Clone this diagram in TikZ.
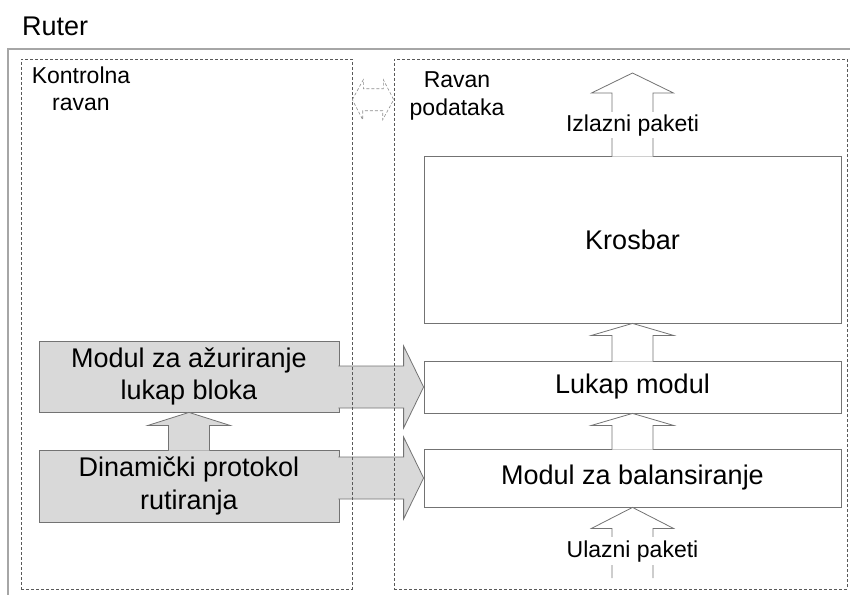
\documentclass[tikz,border=0pt]{standalone}
\usepackage{fontspec}
\setmainfont{Liberation Sans}
\usetikzlibrary{calc}
\tikzset{
    line/.style={draw=black!55,line width=0.8pt},
    plane/.style={draw=black!65,line width=0.6pt,dash pattern=on 3pt off 2pt,inner sep=0pt},
    module/.style={line,fill=white,minimum width=417pt,inner sep=0pt,font=\fontsize{27}{32.5}\selectfont},
    ctrl/.style={line,fill=black!15,minimum width=300pt,inner sep=0pt,align=center,font=\fontsize{27}{32.5}\selectfont},
    small/.style={font=\fontsize{23}{27.6}\selectfont,align=center,inner sep=0pt},
    hollow/.style={line,fill=white},
    solid/.style={line,fill=black!15}
}
% block arrows, tail left open
\newcommand{\blockup}[4]{%
  \filldraw[#1] let \p1=#2, \p2=#3 in
    (\x1-20.5pt,\y1-1pt) -- (\x1-20.5pt,\y2-#4) -- (\x1-41pt,\y2-#4) -- (\p2)
    -- (\x1+41pt,\y2-#4) -- (\x1+20.5pt,\y2-#4) -- (\x1+20.5pt,\y1-1pt);}
\newcommand{\blockright}[3]{%
  \filldraw[#1] let \p1=#2, \p2=#3 in
    (\x1-1pt,\y2+21pt) -- (\x2-20pt,\y2+21pt) -- (\x2-20pt,\y2+41pt) -- (\p2)
    -- (\x2-20pt,\y2-41pt) -- (\x2-20pt,\y2-21pt) -- (\x1-1pt,\y2-21pt);}

\begin{document}
\begin{tikzpicture}[x=1pt,y=-1pt]
  \useasboundingbox (0,0) rectangle (850,594);
  \clip (0,0) rectangle (850,594);
  % Draw router frame
  \draw[draw=black!35,line width=1.2pt] (8,49) rectangle (870,610);
  \node[anchor=base west,inner sep=0pt,font=\fontsize{27}{32.5}\selectfont] (ruter) at (22,36) {Ruter};
  % Draw control plane blocks
  \node[ctrl,minimum height=71pt] (azur) at (189,376.5) {Modul za ažuriranje\\lukap bloka};
  \node[ctrl,minimum height=72pt] (dinam) at (189,486) {Dinamički protokol\\rutiranja};
  % Draw data plane blocks
  \node[module,minimum height=167pt] (krosbar) at (632.5,239.5) {Krosbar};
  \node[module,minimum height=52pt] (lukap) at (632.5,387) {Lukap modul};
  \node[module,minimum height=58pt] (balans) at (632.5,478) {Modul za balansiranje};
  \coordinate (izlazvrh) at (632.5,73);
  \coordinate (ulazdno) at (632.5,577);
  % Draw arrows
  \blockup{hollow}{(krosbar.north)}{(izlazvrh)}{20pt}
  \blockup{hollow}{(lukap.north)}{(krosbar.south)}{12pt}
  \blockup{hollow}{(balans.north)}{(lukap.south)}{12pt}
  \blockup{hollow}{(ulazdno)}{(balans.south)}{21pt}
  \blockup{solid}{(dinam.north)}{(azur.south)}{13pt}
  \blockright{solid}{(azur.east)}{(lukap.west)}
  \blockright{solid}{(dinam.east)}{(balans.west)}
  \node[small,fill=white,inner sep=2.5pt,anchor=base] (izlaz) at (632.5,131) {Izlazni paketi};
  \node[small,fill=white,inner sep=3pt,anchor=base] (ulaz) at (632.5,557) {Ulazni paketi};
  % Draw planes
  \node[plane,minimum width=331pt,minimum height=530pt] (kontrol) at (186.5,324) {};
  \node[plane,minimum width=453pt,minimum height=530pt] (podaci) at (620.5,324) {};
  \node[small,anchor=north] (kontroltxt) at (81,66.5) {Kontrolna\\ravan};
  \node[small,anchor=north] (podacitxt) at (457,71.5) {Ravan\\podataka};
  % Draw interface between planes
  \draw[plane,draw=black!45] ($(kontrol.north east)+(0,41)$) -- ++(11,-20) -- ++(0,9) -- ++(20,0)
        -- ++(0,-9) -- ($(podaci.north west)+(0,41)$) -- ++(-11,20) -- ++(0,-9) -- ++(-20,0)
        -- ++(0,9) -- cycle;
\end{tikzpicture}
\end{document}
